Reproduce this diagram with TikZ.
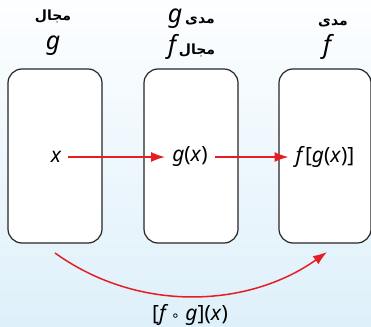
\documentclass[tikz,border=0pt]{standalone}
\usepackage{fontspec}
\setmainfont{Noto Sans}
\newfontfamily\arabicfont[Script=Arabic]{DejaVu Sans}
\newfontfamily\symfont{DejaVu Sans}
\TeXXeTstate=1
\usetikzlibrary{arrows.meta}
\definecolor{arrowred}{RGB}{230,30,36}
\definecolor{bgtop}{RGB}{253,254,255}
\definecolor{bgbot}{RGB}{222,240,250}
\newcommand{\up}[1]{\textup{#1}}
\tikzset{
  setbox/.style={draw=black!85, line width=1.2pt, fill=white, rounded corners=14pt,
    minimum width=94pt, minimum height=174pt},
  val/.style={inner sep=7pt, font=\fontsize{21}{24}\selectfont\itshape},
  toplab/.style={inner sep=0pt, font=\fontsize{14}{16}\selectfont\arabicfont\bfseries},
  letter/.style={inner sep=0pt, font=\fontsize{25}{28}\selectfont\itshape},
  redarrow/.style={draw=arrowred, line width=1.7pt, -{Latex[length=14pt,width=10pt]}}
}
\begin{document}
\begin{tikzpicture}[x=1pt,y=-1pt]
\shade[top color=bgtop, bottom color=bgbot] (0,0) rectangle (371,326);
\useasboundingbox (0,0) rectangle (371,326);
% boxes
\node[setbox] (b1) at (55,156) {};
\node[setbox] (b2) at (191,156) {};
\node[setbox, minimum width=92pt] (b3) at (325,156) {};
% values
\node[val] (x) at (56,157) {x};
\node[val] (gx) at (190,157) {g\up{(}x\up{)}};
\node[val] (fgx) at (325,157) {f\up{[}g\up{(}x\up{)]}};
\draw[redarrow] (x.east) -- (gx.west);
\draw[redarrow] (gx.east) -- (fgx.west);
% top labels
\node[toplab] (l1a) at (53,16) {\beginR مجال\endR};
\node[letter] (l1b) at (53,46) {g};
\node[letter] (l2g) at (175,19) {g};
\node[toplab] (l2a) at (200,21) {\beginR مدى\endR};
\node[letter] (l2f) at (172,47) {f};
\node[toplab] (l2b) at (197,50) {\beginR مجال\endR};
\node[toplab] (l3a) at (333,23) {\beginR مدى\endR};
\node[letter] (l3b) at (327,47) {f};
% composite arrow
\coordinate (cs) at (55,253);
\coordinate (ce) at (327,252);
\draw[redarrow, line width=1.5pt] (cs) .. controls (140,314) and (250,307) .. (ce);
\node[val, inner sep=0pt] (comp) at (190,315) {\up{[}f {\upshape\symfont\fontsize{14}{16}\selectfont ∘} g\up{](}x\up{)}};
\end{tikzpicture}
\end{document}
